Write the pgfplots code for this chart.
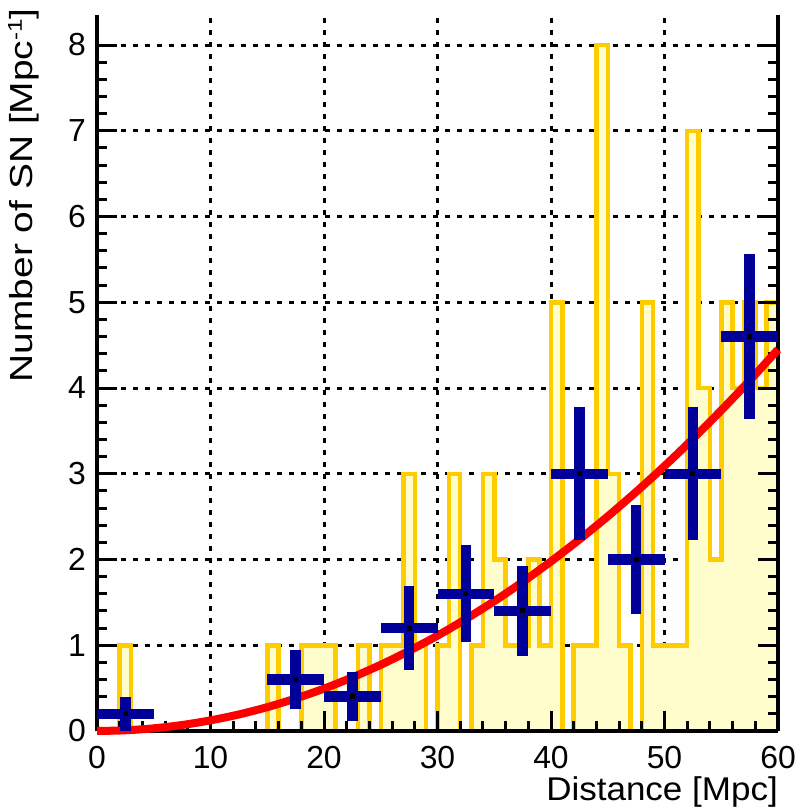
\documentclass[border=0pt]{standalone}
\usepackage{fontspec}
\setmainfont{Liberation Sans}
\usepackage{pgfplots}
\usepackage{pgfplotstable}
\pgfplotsset{compat=1.18}

\definecolor{histline}{RGB}{255,204,0}
\definecolor{histfill}{RGB}{255,253,204}
\definecolor{navy}{RGB}{0,0,153}
\definecolor{fitred}{RGB}{255,0,0}

% supernovae per 1 Mpc bin
\pgfplotstableread{
x y
0 0
1 0
2 1
3 0
4 0
5 0
6 0
7 0
8 0
9 0
10 0
11 0
12 0
13 0
14 0
15 1
16 0
17 0
18 1
19 1
20 1
21 0
22 0
23 1
24 0
25 1
26 1
27 3
28 1
29 0
30 1
31 3
32 0
33 1
34 3
35 2
36 1
37 1
38 2
39 1
40 5
41 0
42 1
43 1
44 8
45 3
46 1
47 0
48 5
49 1
50 1
51 1
52 7
53 4
54 2
55 5
56 4
57 5
58 4
59 5
60 5
}\histdata

% 5 Mpc bins, normalised per Mpc, with Poisson errors
\pgfplotstableread{
x y ex ey
2.5 0.2 2.5 0.200
17.5 0.6 2.5 0.346
22.5 0.4 2.5 0.283
27.5 1.2 2.5 0.490
32.5 1.6 2.5 0.566
37.5 1.4 2.5 0.529
42.5 3.0 2.5 0.775
47.5 2.0 2.5 0.632
52.5 3.0 2.5 0.775
57.5 4.6 2.5 0.959
}\crossdata

% fitted curve
\pgfplotstableread{
x y
0 0
2.5 0.008
5 0.031
7.5 0.070
10 0.124
12.5 0.193
15 0.278
17.5 0.379
20 0.494
22.5 0.626
25 0.772
27.5 0.935
30 1.112
32.5 1.306
35 1.514
37.5 1.738
40 1.978
42.5 2.233
45 2.503
47.5 2.789
50 3.090
52.5 3.407
55 3.740
57.5 4.087
60 4.450
}\fitdata

\pgfplotsset{
  frame geometry/.style={
    width=681bp, height=716bp, scale only axis,
    xmin=0, xmax=60, ymin=0, ymax=8.35,
    xtick={0,10,...,60}, ytick={0,1,...,8},
  },
}

\begin{document}
\begin{tikzpicture}
% background: dotted grid and the histogram
\begin{axis}[
  frame geometry,
  grid=major,
  major grid style={black, line width=3bp, dash pattern=on 4.5bp off 7.5bp},
  axis line style={draw=none},
  tick style={draw=none},
  xticklabels={}, yticklabels={},
]
\addplot[const plot, draw=histline, fill=histfill, line width=4.5bp]
  table[x=x, y=y] {\histdata} \closedcycle;
\end{axis}

% foreground: axes, ticks, binned points and fit
\begin{axis}[
  frame geometry,
  axis x line=bottom, axis y line=box,
  axis line style={black, line width=4.5bp, -},
  x axis line style={-}, y axis line style={-},
  tick align=inside,
  tick style={black, line width=3bp},
  major tick length=20bp, minor tick length=10bp,
  minor x tick num=4, minor y tick num=4,
  /pgf/number format/assume math mode=true,
  ticklabel style={font=\fontsize{32}{38}\selectfont},
  xticklabel style={anchor=north, inner sep=0pt, yshift=-15bp},
  yticklabel style={anchor=east, inner sep=0pt, xshift=-11bp},
  clip=false,
]
\coordinate (O) at (rel axis cs:0,0);
\addplot[fitred, line width=8bp, smooth, no marks] table[x=x, y=y] {\fitdata};
\addplot[only marks, mark=square*, mark size=2bp,
  mark options={fill=black, draw=black, line width=0pt},
  error bars/.cd, x dir=both, x explicit, y dir=both, y explicit,
  error mark=none, error bar style={navy, line width=10.5bp}]
  table[x=x, y=y, x error=ex, y error=ey] {\crossdata};
\end{axis}

\node[rotate=90, anchor=base east, inner sep=0pt, font=\fontsize{32}{38}\selectfont]
  at ([shift={(-64bp,723bp)}]O)
  {\scalebox{1.22}[1]{Number of SN [Mpc\raisebox{11bp}{\fontsize{20}{20}\selectfont -1}]}};
\node[anchor=base east, inner sep=0pt, font=\fontsize{33}{40}\selectfont]
  at ([shift={(681bp,-69bp)}]O) {\scalebox{1.065}[1]{Distance [Mpc]}};

\pgfresetboundingbox
\path (O) ++(-97bp,-77bp) rectangle ++(797bp,808bp);
\end{tikzpicture}
\end{document}
